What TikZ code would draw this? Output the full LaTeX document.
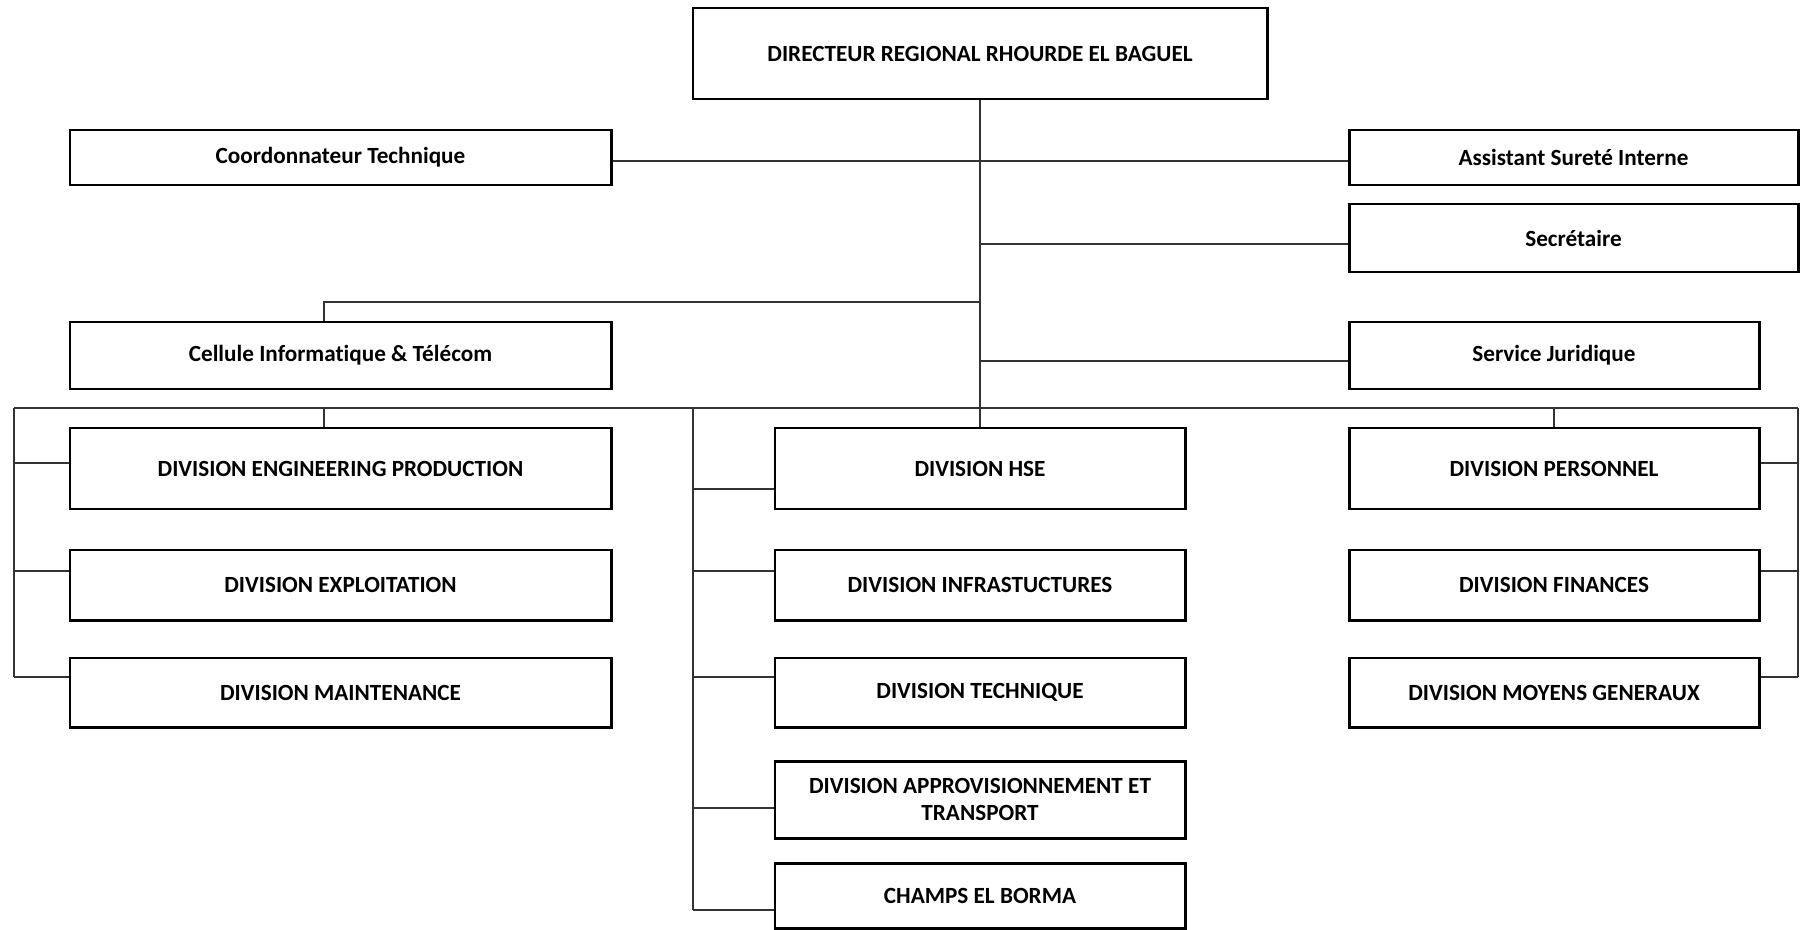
\documentclass[tikz,border=0pt]{standalone}
\usepackage{fontspec}
\setmainfont{Carlito}[Ligatures=NoCommon]
\begin{document}
\begin{tikzpicture}[x=0.02cm,y=-0.02cm,
  orgbox/.style={draw=black, line width=1.7pt, inner sep=0pt, align=center,
    font=\bfseries\fontsize{13.2}{15.6}\selectfont},
  link/.style={draw=black!80, line width=0.8pt}]
\useasboundingbox (0,0) rectangle (1800,930);
% box given by its left, top, right and bottom edges
\newcommand\orgbox[6]{%
  \pgfmathsetmacro\bw{(#4-#2)*0.02}%
  \pgfmathsetmacro\bh{(#5-#3)*0.02}%
  \node[orgbox, minimum width=\bw cm, minimum height=\bh cm]
    (#1) at ({(#2+#4)/2},{(#3+#5)/2}) {#6};}

\orgbox{dir}{693}{8}{1267}{99}{DIRECTEUR REGIONAL RHOURDE EL BAGUEL}
\orgbox{coord}{70}{130}{611}{185}{Coordonnateur Technique}
\orgbox{asst}{1349}{130}{1798}{185}{Assistant Sureté Interne}
\orgbox{sec}{1349}{204}{1798}{272}{Secrétaire}
\orgbox{cell}{70}{322}{611}{389}{Cellule Informatique \& Télécom}
\orgbox{jur}{1349}{322}{1759}{389}{Service Juridique}

\orgbox{eng}{70}{428}{611}{509}{DIVISION ENGINEERING PRODUCTION}
\orgbox{expl}{70}{550}{611}{620}{DIVISION EXPLOITATION}
\orgbox{maint}{70}{658}{611}{727}{DIVISION MAINTENANCE}

\orgbox{hse}{775}{428}{1185}{509}{DIVISION HSE}
\orgbox{infra}{775}{550}{1185}{620}{DIVISION INFRASTUCTURES}
\orgbox{tech}{775}{658}{1185}{727}{DIVISION TECHNIQUE}
\orgbox{appro}{775}{761}{1185}{838}{DIVISION APPROVISIONNEMENT ET\\TRANSPORT}
\orgbox{champs}{775}{863}{1185}{928}{CHAMPS EL BORMA}

\orgbox{pers}{1349}{428}{1759}{509}{DIVISION PERSONNEL}
\orgbox{fin}{1349}{550}{1759}{620}{DIVISION FINANCES}
\orgbox{moy}{1349}{658}{1759}{727}{DIVISION MOYENS GENERAUX}

% junction points
\coordinate (r1) at (980,161);
\coordinate (r2) at (980,244);
\coordinate (r3) at (980,302);
\coordinate (ce) at (324,302);
\coordinate (r4) at (980,361);
\coordinate (bl) at (14,408);
\coordinate (br) at (1798,408);
\coordinate (be) at (324,408);
\coordinate (bm) at (693,408);
\coordinate (l1) at (14,463);
\coordinate (l2) at (14,571);
\coordinate (l3) at (14,677);
\coordinate (m1) at (693,489);
\coordinate (m2) at (693,571);
\coordinate (m3) at (693,677);
\coordinate (m4) at (693,808);
\coordinate (m5) at (693,910);
\coordinate (q1) at (1798,463);
\coordinate (q2) at (1798,571);
\coordinate (q3) at (1798,677);

% trunk and staff links
\draw[link] (dir.south) -- (hse.north);
\draw[link] (r1 -| coord.east) -- (r1 -| asst.west);
\draw[link] (r2) -- (r2 -| sec.west);
\draw[link] (r3) -- (ce) -- (ce |- cell.north);
\draw[link] (r4) -- (r4 -| jur.west);

% division bus
\draw[link] (bl) -- (br);
\draw[link] (be) -- (be |- eng.north);
\draw[link] (pers.north |- bl) -- (pers.north);

% left column
\draw[link] (bl) -- (l3);
\draw[link] (l1) -- (l1 -| eng.west);
\draw[link] (l2) -- (l2 -| expl.west);
\draw[link] (l3) -- (l3 -| maint.west);

% middle column
\draw[link] (bm) -- (m5);
\draw[link] (m1) -- (m1 -| hse.west);
\draw[link] (m2) -- (m2 -| infra.west);
\draw[link] (m3) -- (m3 -| tech.west);
\draw[link] (m4) -- (m4 -| appro.west);
\draw[link] (m5) -- (m5 -| champs.west);

% right column
\draw[link] (br) -- (q3);
\draw[link] (q1) -- (q1 -| pers.east);
\draw[link] (q2) -- (q2 -| fin.east);
\draw[link] (q3) -- (q3 -| moy.east);
\end{tikzpicture}
\end{document}
